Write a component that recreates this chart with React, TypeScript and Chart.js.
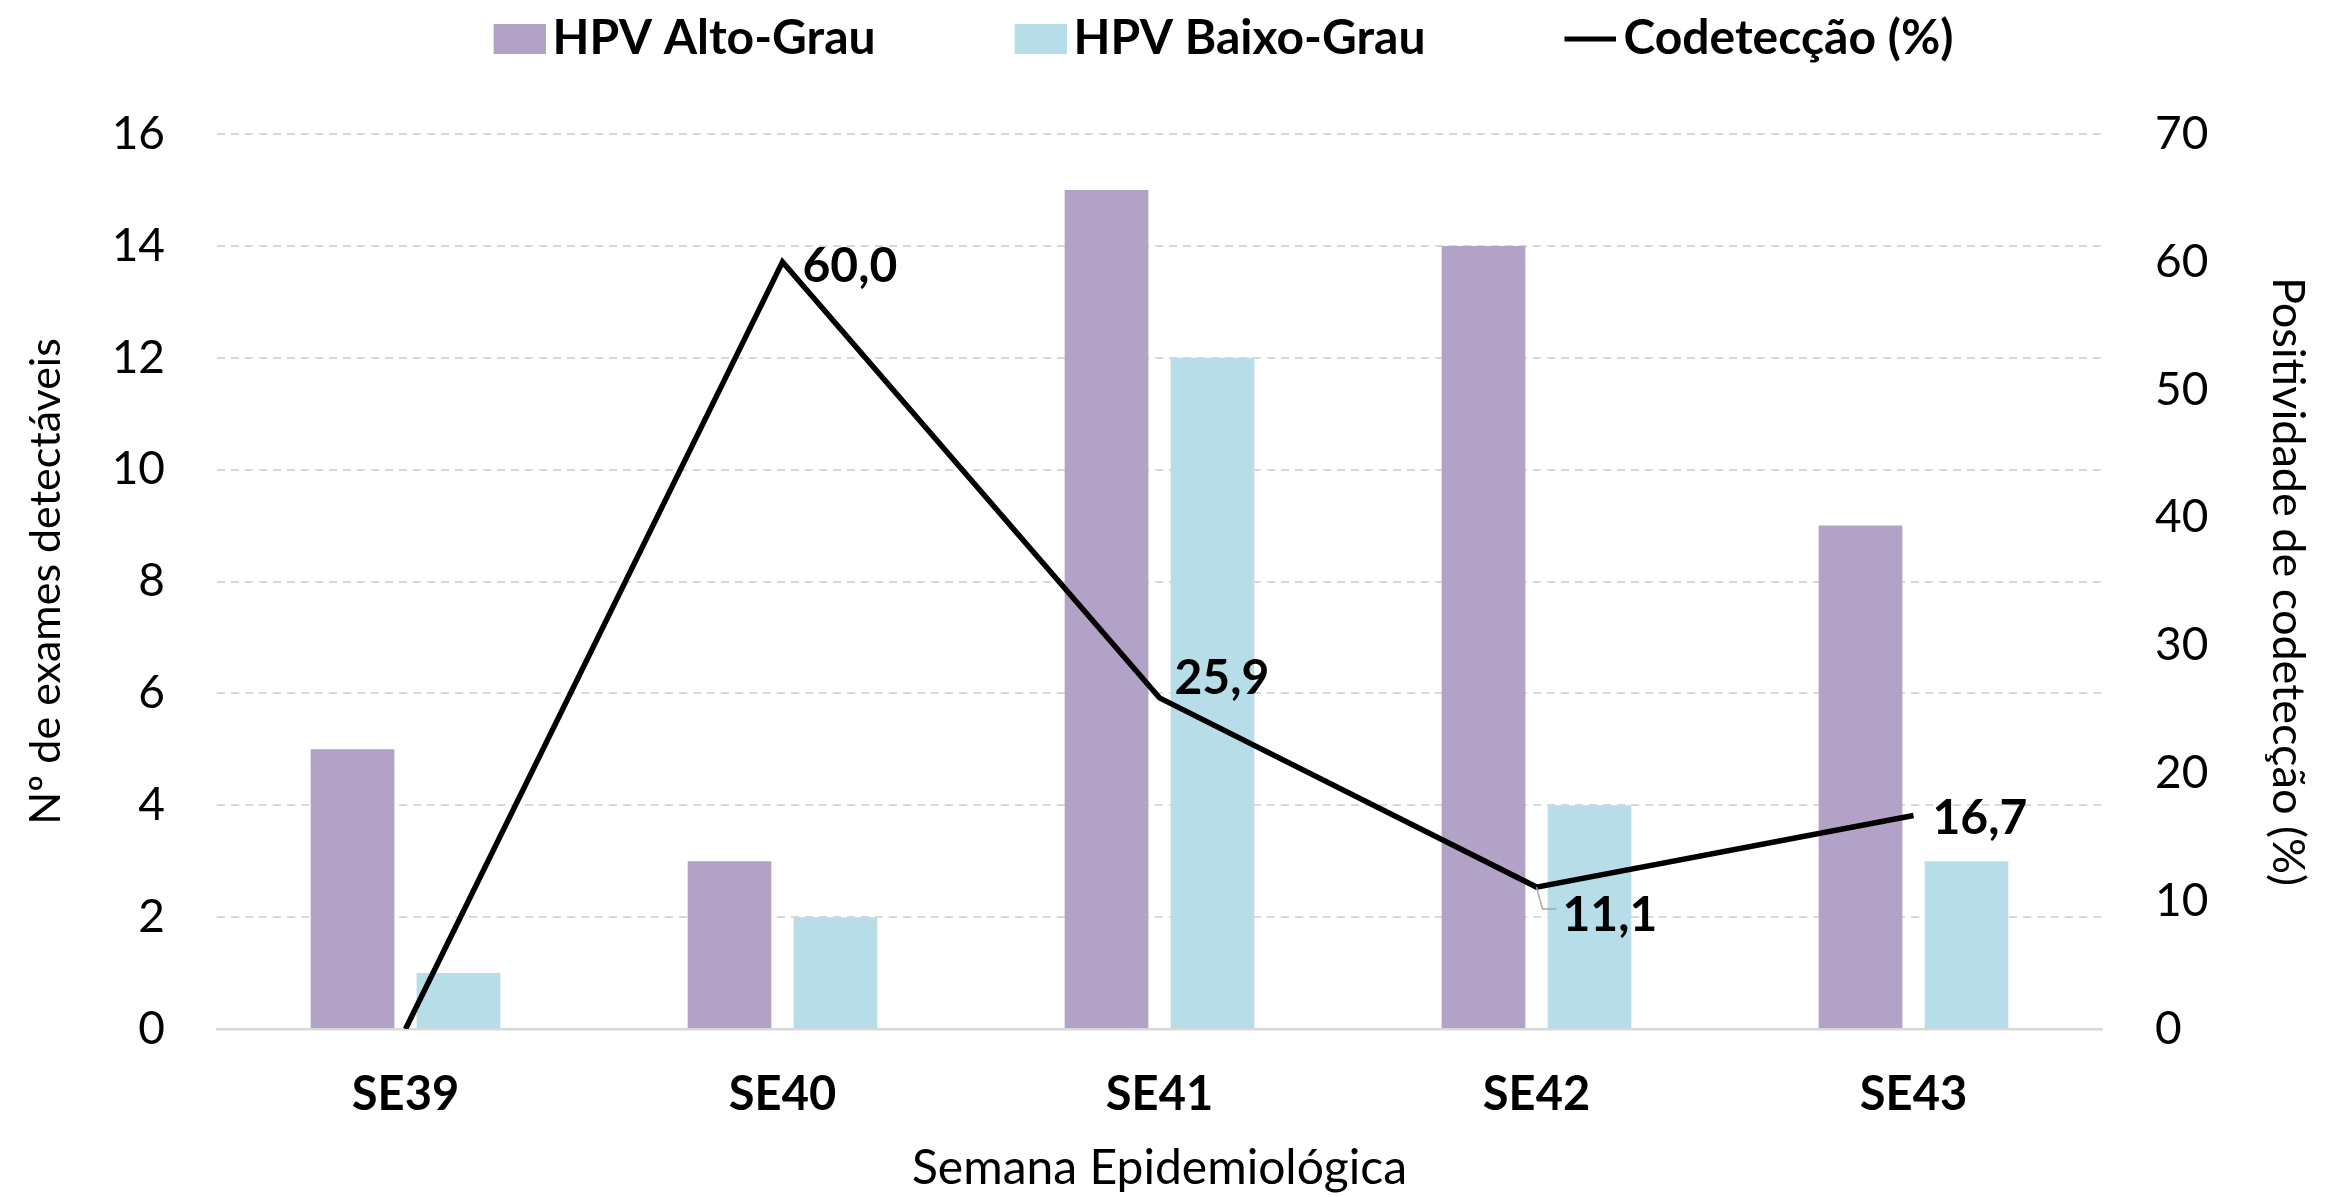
import React, { useEffect, useRef } from 'react';
import { Chart, registerables } from 'chart.js';

Chart.register(...registerables);

// ---- Data ----
const categories = ['SE39', 'SE40', 'SE41', 'SE42', 'SE43'];
const altoGrau = [5, 3, 15, 14, 9];
const baixoGrau = [1, 2, 12, 4, 3];
const codeteccao = [0, 60.0, 25.9, 11.1, 16.7];
const seriesNames = ['HPV Alto-Grau', 'HPV Baixo-Grau', 'Codetecção (%)'];
const leftAxisMax = 16;
const leftAxisStep = 2;
const rightAxisMax = 70;
const rightAxisStep = 10;

// ---- Styles ----
const PURPLE = '#b3a2c7';
const BLUE = '#b7dee8';
const GRID = '#d9d9d9';
const FONT = 'Lato, "Open Sans", sans-serif';

// label offsets relative to each point (pixels)
const labelOffsets = [
  { dx: 0, dy: 0 },
  { dx: 20, dy: 5 },
  { dx: 15, dy: -19 },
  { dx: 26, dy: 28, leader: true },
  { dx: 19, dy: 3 },
];

const LEG_FS = 48;
const PW = 156; // legend pointStyleWidth (item box slot)

function makeSwatch(kind: 'box' | 'line', color: string): HTMLCanvasElement {
  const iw = PW + 2 * (LEG_FS / 2 - 7);
  const ih = 30;
  const c = document.createElement('canvas');
  c.width = iw;
  c.height = ih;
  const g = c.getContext('2d')!;
  g.fillStyle = color;
  if (kind === 'box') {
    g.fillRect(iw - 52, 0, 52, ih);
  } else {
    g.fillRect(iw - 52, ih / 2 - 2.5, 52, 5);
  }
  return c;
}

const fmt = (v: number) => v.toFixed(1).replace('.', ',');

const legendPosPlugin = {
  id: 'legendPos',
  afterLayout(chart: any) {
    const lg = chart.legend;
    if (!lg) return;
    const h = lg.height;
    lg.top = -3;
    lg.bottom = lg.top + h;
    lg.left -= 13;
    lg.right -= 13;
  },
};

const dataLabelPlugin = {
  id: 'codetLabels',
  afterDatasetsDraw(chart: any) {
    const idx = chart.data.datasets.findIndex((d: any) => d.type === 'line');
    const meta = chart.getDatasetMeta(idx);
    const ctx = chart.ctx;
    ctx.save();
    meta.data.forEach((pt: any, i: number) => {
      const v = codeteccao[i];
      if (!v) return;
      const off = labelOffsets[i];
      if (off.leader) {
        ctx.strokeStyle = '#a6a6a6';
        ctx.lineWidth = 1.5;
        ctx.beginPath();
        ctx.moveTo(pt.x, pt.y);
        ctx.lineTo(pt.x + 6, pt.y + 22);
        ctx.lineTo(pt.x + 20, pt.y + 22);
        ctx.stroke();
      }
      ctx.font = `bold 48px ${FONT}`;
      ctx.fillStyle = '#000';
      ctx.textAlign = 'left';
      ctx.textBaseline = 'middle';
      ctx.fillText(fmt(v), pt.x + off.dx, pt.y + off.dy);
    });
    ctx.restore();
  },
};

export default function App() {
  const ref = useRef<HTMLCanvasElement>(null);

  useEffect(() => {
    document.body.style.margin = '0';
    const swatches = [makeSwatch('box', PURPLE), makeSwatch('box', BLUE), makeSwatch('line', '#000')];

    const chart = new Chart(ref.current!, {
      type: 'bar',
      data: {
        labels: categories,
        datasets: [
          {
            type: 'bar',
            label: seriesNames[0],
            data: altoGrau,
            backgroundColor: PURPLE,
            yAxisID: 'y',
            order: 1,
            categoryPercentage: 0.562,
            barPercentage: 0.79,
          },
          {
            type: 'bar',
            label: seriesNames[1],
            data: baixoGrau,
            backgroundColor: BLUE,
            yAxisID: 'y',
            order: 2,
            categoryPercentage: 0.562,
            barPercentage: 0.79,
          },
          {
            type: 'line',
            label: seriesNames[2],
            data: codeteccao,
            borderColor: '#000',
            backgroundColor: '#000',
            borderWidth: 5.5,
            pointRadius: 0,
            tension: 0,
            yAxisID: 'y1',
            order: 0,
          },
        ] as any,
      },
      options: {
        responsive: false,
        maintainAspectRatio: false,
        animation: false,
        devicePixelRatio: 1,
        layout: { padding: 0 },
        plugins: {
          tooltip: { enabled: false },
          legend: {
            position: 'top',
            align: 'center',
            labels: {
              usePointStyle: true,
              pointStyleWidth: PW,
              padding: 18,
              color: '#000',
              font: { family: FONT, size: LEG_FS, weight: 'bold' },
              generateLabels: () =>
                seriesNames.map((name, i) => ({
                  text: name,
                  pointStyle: swatches[i],
                  fillStyle: '#000',
                  strokeStyle: '#000',
                  lineWidth: 0,
                  hidden: false,
                  datasetIndex: i,
                  fontColor: '#000',
                })),
            },
          },
        },
        scales: {
          x: {
            type: 'category',
            grid: { display: false, drawTicks: false },
            border: { display: true, color: GRID, width: 2.5 },
            ticks: {
              color: '#000',
              padding: 38,
              font: { family: FONT, size: 47, weight: 'bold' },
            },
            title: {
              display: true,
              text: 'Semana Epidemiológica',
              color: '#000',
              font: { family: FONT, size: 48 },
              padding: { top: 0, bottom: 0 },
            },
            afterFit: (s: any) => {
              s.height = 168;
            },
          },
          y: {
            position: 'left',
            min: 0,
            max: leftAxisMax,
            ticks: {
              stepSize: leftAxisStep,
              color: '#000',
              padding: 52,
              font: { family: FONT, size: 46 },
            },
            grid: {
              drawTicks: false,
              lineWidth: 2,
              color: (c: any) => (c.tick && c.tick.value === 0 ? 'rgba(0,0,0,0)' : GRID),
            },
            border: { display: false, dash: [8, 6] },
            title: {
              display: true,
              text: 'Nº de exames detectáveis',
              color: '#000',
              font: { family: FONT, size: 43 },
              padding: { top: 20, bottom: 0 },
            },
            afterFit: (s: any) => {
              s.width = 217;
              s.paddingTop = 134;
            },
          },
          y1: {
            position: 'right',
            min: 0,
            max: rightAxisMax,
            ticks: {
              stepSize: rightAxisStep,
              color: '#000',
              padding: 53,
              font: { family: FONT, size: 46 },
            },
            grid: { drawOnChartArea: false, drawTicks: false },
            border: { display: false },
            title: {
              display: true,
              text: 'Positividade de codetecção (%)',
              color: '#000',
              font: { family: FONT, size: 45 },
              padding: { top: 37, bottom: 0 },
            },
            afterFit: (s: any) => {
              s.width = 250;
              s.paddingTop = 134;
            },
          },
        },
      } as any,
      plugins: [legendPosPlugin, dataLabelPlugin],
    });
    return () => chart.destroy();
  }, []);

  return (
    <div style={{ width: 2352, height: 1197, background: '#fff' }}>
      <canvas ref={ref} width={2352} height={1197} style={{ display: 'block' }} />
    </div>
  );
}
